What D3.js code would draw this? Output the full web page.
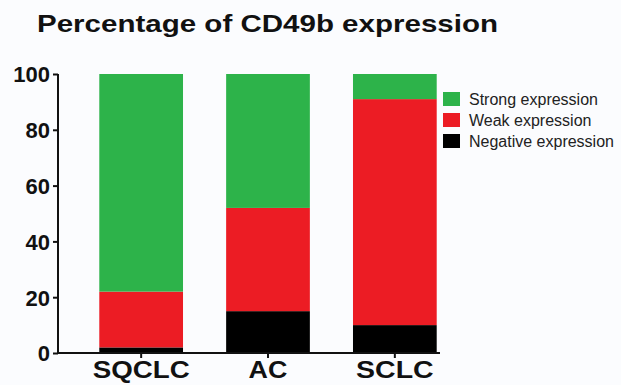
<!DOCTYPE html>
<html>
<head>
<meta charset="utf-8">
<script src="https://cdn.jsdelivr.net/npm/d3@7"></script>
<style>
  body { margin: 0; background: #fbfcfe; }
  svg { display: block; font-family: "Liberation Sans", Arial, sans-serif; }
</style>
</head>
<body>
<div id="chart"></div>
<script>
const categories = ["SQCLC", "AC", "SCLC"];
const negative = [2, 15, 10];
const weak = [20, 37, 81];
const strong = [78, 48, 9];
const seriesNames = ["Negative expression", "Weak expression", "Strong expression"];
const yTicks = [0, 20, 40, 60, 80, 100];

const width = 621, height = 385;
const margin = { top: 74, left: 58, bottom: 32 };
const plotBottom = height - margin.bottom;

const svg = d3.select("#chart").append("svg")
    .attr("width", width)
    .attr("height", height);

svg.append("text")
    .attr("x", 37).attr("y", 32)
    .attr("font-size", 24).attr("font-weight", "bold")
    .attr("fill", "#111")
    .attr("textLength", 461).attr("lengthAdjust", "spacingAndGlyphs")
    .text("Percentage of CD49b expression");

const rows = categories.map((c, i) => ({
    cat: c,
    "Negative expression": negative[i],
    "Weak expression": weak[i],
    "Strong expression": strong[i]
}));

const x = d3.scaleBand()
    .domain(categories)
    .range([79, 457])
    .paddingInner(0.34)
    .paddingOuter(0.16);

const y = d3.scaleLinear()
    .domain([0, 100])
    .range([plotBottom, margin.top]);

const color = d3.scaleOrdinal()
    .domain(seriesNames)
    .range(["#000000", "#ec1c24", "#2db34a"]);

const stacked = d3.stack().keys(seriesNames)(rows);

svg.append("g")
    .selectAll("g")
    .data(stacked)
    .enter().append("g")
    .attr("fill", d => color(d.key))
    .selectAll("rect")
    .data(d => d)
    .enter().append("rect")
    .attr("x", d => x(d.data.cat))
    .attr("y", d => y(d[1]))
    .attr("width", x.bandwidth())
    .attr("height", d => y(d[0]) - y(d[1]));

// y axis
const yAxis = svg.append("g")
    .attr("transform", "translate(" + margin.left + ",0)")
    .call(d3.axisLeft(y).tickValues(yTicks).tickSize(5).tickPadding(3));
yAxis.selectAll("text")
    .attr("font-size", 22).attr("font-weight", "bold").attr("fill", "#111")
    .attr("dy", "0.36em");
yAxis.selectAll("line, path").attr("stroke", "#111").attr("stroke-width", 2);
yAxis.select(".domain").attr("d", "M0," + y(100) + "V" + (plotBottom));

// x axis
const xAxis = svg.append("g")
    .attr("transform", "translate(0," + plotBottom + ")")
    .call(d3.axisBottom(x).tickSize(5).tickPadding(4));
xAxis.select(".domain").attr("d", "M" + margin.left + ",0H" + 440);
xAxis.selectAll("line, path").attr("stroke", "#111").attr("stroke-width", 2);
xAxis.selectAll("text")
    .attr("font-size", 23).attr("font-weight", "bold").attr("fill", "#111")
    .attr("textLength", d => d.length * 19.4)
    .attr("lengthAdjust", "spacingAndGlyphs");

// legend
const legendNames = seriesNames.slice().reverse();
const legend = svg.append("g")
    .selectAll("g")
    .data(legendNames)
    .enter().append("g")
    .attr("transform", (d, i) => "translate(443," + (92 + i * 21) + ")");
legend.append("rect")
    .attr("width", 17).attr("height", 14)
    .attr("fill", d => color(d));
legend.append("text")
    .attr("x", 26).attr("y", 13)
    .attr("font-size", 16).attr("fill", "#222")
    .text(d => d);
</script>
</body>
</html>
